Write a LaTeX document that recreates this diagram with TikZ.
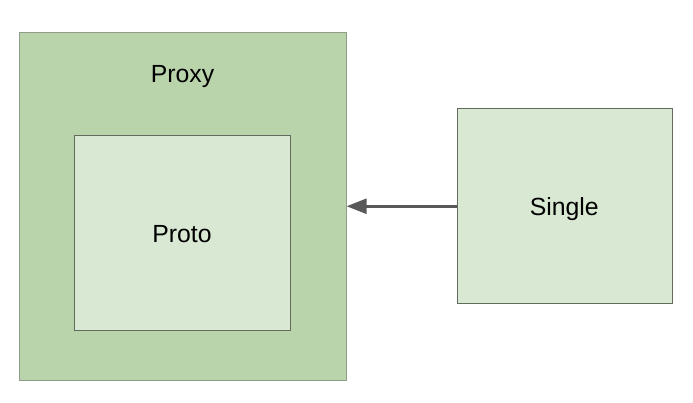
\documentclass[tikz,border=0pt]{standalone}
\usepackage{fontspec}
\setmainfont{Liberation Sans}
\usetikzlibrary{arrows.meta}
\definecolor{outerfill}{HTML}{B9D4AA}
\definecolor{innerfill}{HTML}{D9E8D2}
\definecolor{outerline}{HTML}{8E9C89}
\definecolor{innerline}{HTML}{626B5E}
\definecolor{arrowgray}{HTML}{595959}
\tikzset{
  box/.style={draw, line width=0.9pt, rectangle, inner sep=0pt, anchor=north west},
  outerbox/.style={box, draw=outerline, fill=outerfill},
  innerbox/.style={box, draw=innerline, fill=innerfill},
  lbl/.style={font=\fontsize{24.8}{29}\selectfont, text=black, inner sep=0pt, anchor=base},
  link/.style={draw=arrowgray, line width=2.5pt, -{Triangle[length=20pt,width=15pt]}}
}
\begin{document}
\begin{tikzpicture}[x=1pt,y=-1pt]
  \useasboundingbox (0,0) rectangle (693,402);
  % outer proxy frame with the wrapped proto inside
  \node[outerbox, minimum width=327pt, minimum height=348pt] (proxy) at (18.7,31.7) {};
  \node[lbl] (proxylbl) at (182.5,82.7) {Proxy};
  \node[innerbox, minimum width=215.7pt, minimum height=194.7pt] (proto) at (74.3,135.3) {};
  \node[lbl] (protolbl) at (182,242.3) {Proto};
  % the single object on the right
  \node[innerbox, minimum width=215.6pt, minimum height=195pt] (single) at (456.7,108.3) {};
  \node[lbl] (singlelbl) at (564.3,215.3) {Single};
  % connector
  \draw[link] (single.west) -- (single.west -| proxy.east);
\end{tikzpicture}
\end{document}
